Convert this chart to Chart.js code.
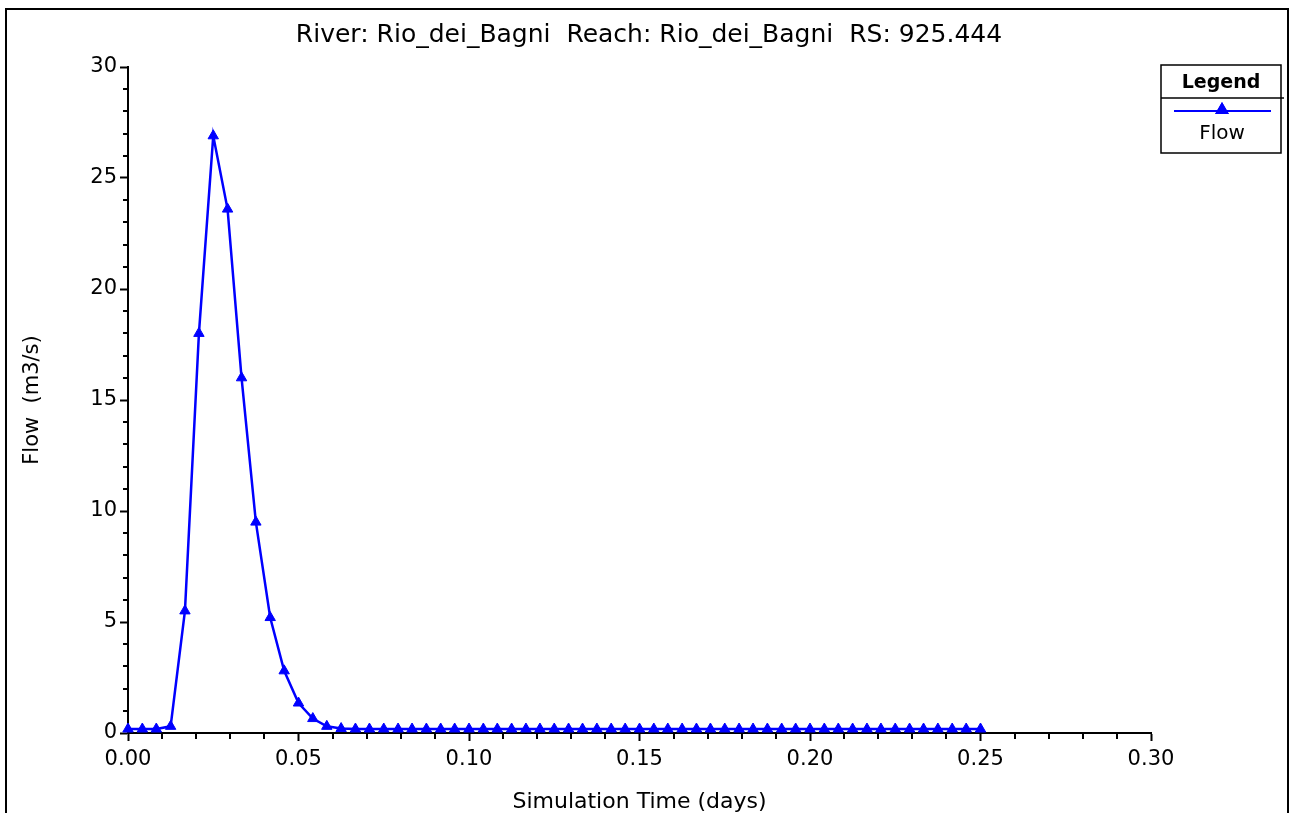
<!DOCTYPE html>
<html>
<head>
<meta charset="utf-8">
<title>Rio_dei_Bagni flow hydrograph</title>
<script src="https://cdn.jsdelivr.net/npm/chart.js@4/dist/chart.umd.min.js"></script>
<style>
  html, body { margin: 0; padding: 0; background: #ffffff; }
  canvas { display: block; }
</style>
</head>
<body>
<canvas id="chart" width="1292" height="813"></canvas>
<script>
// Simulation time (days) of each output step
const times = [
  0.0000, 0.0042, 0.0083, 0.0125, 0.0167, 0.0208, 0.0250, 0.0292, 0.0333, 0.0375,
  0.0417, 0.0458, 0.0500, 0.0542, 0.0583, 0.0625, 0.0667, 0.0708, 0.0750, 0.0792,
  0.0833, 0.0875, 0.0917, 0.0958, 0.1000, 0.1042, 0.1083, 0.1125, 0.1167, 0.1208,
  0.1250, 0.1292, 0.1333, 0.1375, 0.1417, 0.1458, 0.1500, 0.1542, 0.1583, 0.1625,
  0.1667, 0.1708, 0.1750, 0.1792, 0.1833, 0.1875, 0.1917, 0.1958, 0.2000, 0.2042,
  0.2083, 0.2125, 0.2167, 0.2208, 0.2250, 0.2292, 0.2333, 0.2375, 0.2417, 0.2458,
  0.2500
];

// Flow (m3/s) at each step
const flows = [
  0.18, 0.18, 0.18, 0.30, 5.5, 18.0, 26.9, 23.6, 16.0, 9.5,
  5.2, 2.8, 1.35, 0.65, 0.30, 0.20, 0.18, 0.18, 0.18, 0.18,
  0.18, 0.18, 0.18, 0.18, 0.18, 0.18, 0.18, 0.18, 0.18, 0.18,
  0.18, 0.18, 0.18, 0.18, 0.18, 0.18, 0.18, 0.18, 0.18, 0.18,
  0.18, 0.18, 0.18, 0.18, 0.18, 0.18, 0.18, 0.18, 0.18, 0.18,
  0.18, 0.18, 0.18, 0.18, 0.18, 0.18, 0.18, 0.18, 0.18, 0.18,
  0.18
];

const chartTitle = 'River: Rio_dei_Bagni  Reach: Rio_dei_Bagni  RS: 925.444';
const seriesName = 'Flow';
const xTitle = 'Simulation Time (days)';
const yTitle = 'Flow  (m3/s)';
const xMajorStep = 0.05, xMinorStep = 0.01;
const yMajorStep = 5, yMinorStep = 1;
const lineColor = '#0000ff';

Chart.defaults.font.family = "'DejaVu Sans', sans-serif";
Chart.defaults.color = '#000000';

// Outer frame around the plot window
const framePlugin = {
  id: 'frame',
  afterDraw(chart) {
    const c = chart.ctx;
    c.save();
    c.strokeStyle = '#000';
    c.lineWidth = 2;
    c.beginPath();
    c.moveTo(6, 813); c.lineTo(6, 9); c.lineTo(1288, 9); c.lineTo(1288, 813);
    c.stroke();
    c.restore();
  }
};

// Centered heading above the plot
const headingPlugin = {
  id: 'heading',
  afterDraw(chart) {
    const c = chart.ctx;
    c.save();
    c.fillStyle = '#000';
    c.font = "25px 'DejaVu Sans', sans-serif";
    c.textAlign = 'center';
    c.textBaseline = 'alphabetic';
    c.fillText(chartTitle, 649, 42);
    c.restore();
  }
};

// Short minor tick marks between the labelled ticks
const minorTickPlugin = {
  id: 'minorTicks',
  afterDraw(chart) {
    const c = chart.ctx;
    const xs = chart.scales.x, ys = chart.scales.y;
    c.save();
    c.strokeStyle = '#000';
    c.lineWidth = 2;
    c.beginPath();
    const y0 = ys.getPixelForValue(0);
    for (let i = 0; i * xMinorStep <= xs.max + 1e-9; i++) {
      const v = i * xMinorStep;
      if (Math.abs(v / xMajorStep - Math.round(v / xMajorStep)) < 1e-6) continue;
      const px = Math.round(xs.getPixelForValue(v));
      c.moveTo(px, y0); c.lineTo(px, y0 + 6);
    }
    const x0 = xs.getPixelForValue(0);
    for (let v = 0; v <= ys.max; v += yMinorStep) {
      if (v % yMajorStep === 0) continue;
      const py = Math.round(ys.getPixelForValue(v));
      c.moveTo(x0, py); c.lineTo(x0 - 5, py);
    }
    c.stroke();
    c.restore();
  }
};

// Boxed legend in the upper right corner
const legendBoxPlugin = {
  id: 'legendBox',
  afterDraw(chart) {
    const c = chart.ctx;
    const ds = chart.data.datasets[0];
    const L = 1161, T = 65, R = 1281, B = 153;
    c.save();
    c.strokeStyle = '#000';
    c.lineWidth = 1.5;
    c.strokeRect(L, T, R - L, B - T);
    c.beginPath();
    c.moveTo(L, 98); c.lineTo(1284, 98);
    c.stroke();
    c.fillStyle = '#000';
    c.textAlign = 'center';
    c.textBaseline = 'middle';
    c.font = "bold 19px 'DejaVu Sans', sans-serif";
    c.fillText('Legend', (L + R) / 2, 83);
    c.font = "20px 'DejaVu Sans', sans-serif";
    c.fillText(ds.label, (L + R) / 2 + 1, 134);
    c.strokeStyle = ds.borderColor;
    c.lineWidth = 2;
    c.beginPath();
    c.moveTo(1174, 111); c.lineTo(1271, 111);
    c.stroke();
    Chart.helpers.drawPoint(c, {
      pointStyle: 'triangle', radius: ds.pointRadius, borderWidth: 1, rotation: 0
    }, 1222, 110);
    c.fillStyle = ds.backgroundColor;
    c.fill();
    c.stroke();
    c.restore();
  }
};

const points = times.map((t, i) => ({ x: t, y: flows[i] }));

new Chart(document.getElementById('chart'), {
  type: 'line',
  data: {
    datasets: [{
      label: seriesName,
      data: points,
      borderColor: lineColor,
      backgroundColor: lineColor,
      borderWidth: 2.5,
      pointStyle: 'triangle',
      pointRadius: 6,
      pointBorderWidth: 1,
      pointBackgroundColor: lineColor,
      pointBorderColor: lineColor,
      tension: 0,
      clip: false
    }]
  },
  options: {
    responsive: false,
    animation: false,
    layout: { padding: { left: 0, right: 141, top: 67, bottom: 0 } },
    plugins: {
      legend: { display: false },
      tooltip: { enabled: false },
      title: { display: false }
    },
    scales: {
      x: {
        type: 'linear',
        min: 0,
        max: 0.3,
        ticks: {
          stepSize: xMajorStep,
          autoSkip: false,
          maxRotation: 0,
          padding: 6,
          color: '#000',
          font: { size: 21 },
          callback: v => v.toFixed(2)
        },
        grid: { drawOnChartArea: false, drawTicks: true, tickLength: 8, tickWidth: 2, tickColor: '#000' },
        border: { display: true, color: '#000', width: 2 },
        title: { display: true, text: xTitle, color: '#000', font: { size: 22, lineHeight: 1 }, padding: 0 },
        afterFit(scale) { scale.height = 80; }
      },
      y: {
        min: 0,
        max: 30,
        ticks: {
          stepSize: yMajorStep,
          padding: 3,
          color: '#000',
          font: { size: 21 }
        },
        grid: { drawOnChartArea: false, drawTicks: true, tickLength: 8, tickWidth: 2, tickColor: '#000' },
        border: { display: true, color: '#000', width: 2 },
        title: { display: true, text: yTitle, color: '#000', font: { size: 21 }, padding: { top: 20, bottom: 0 } },
        afterFit(scale) { scale.width = 128; }
      }
    }
  },
  plugins: [framePlugin, headingPlugin, minorTickPlugin, legendBoxPlugin]
});
</script>
</body>
</html>
